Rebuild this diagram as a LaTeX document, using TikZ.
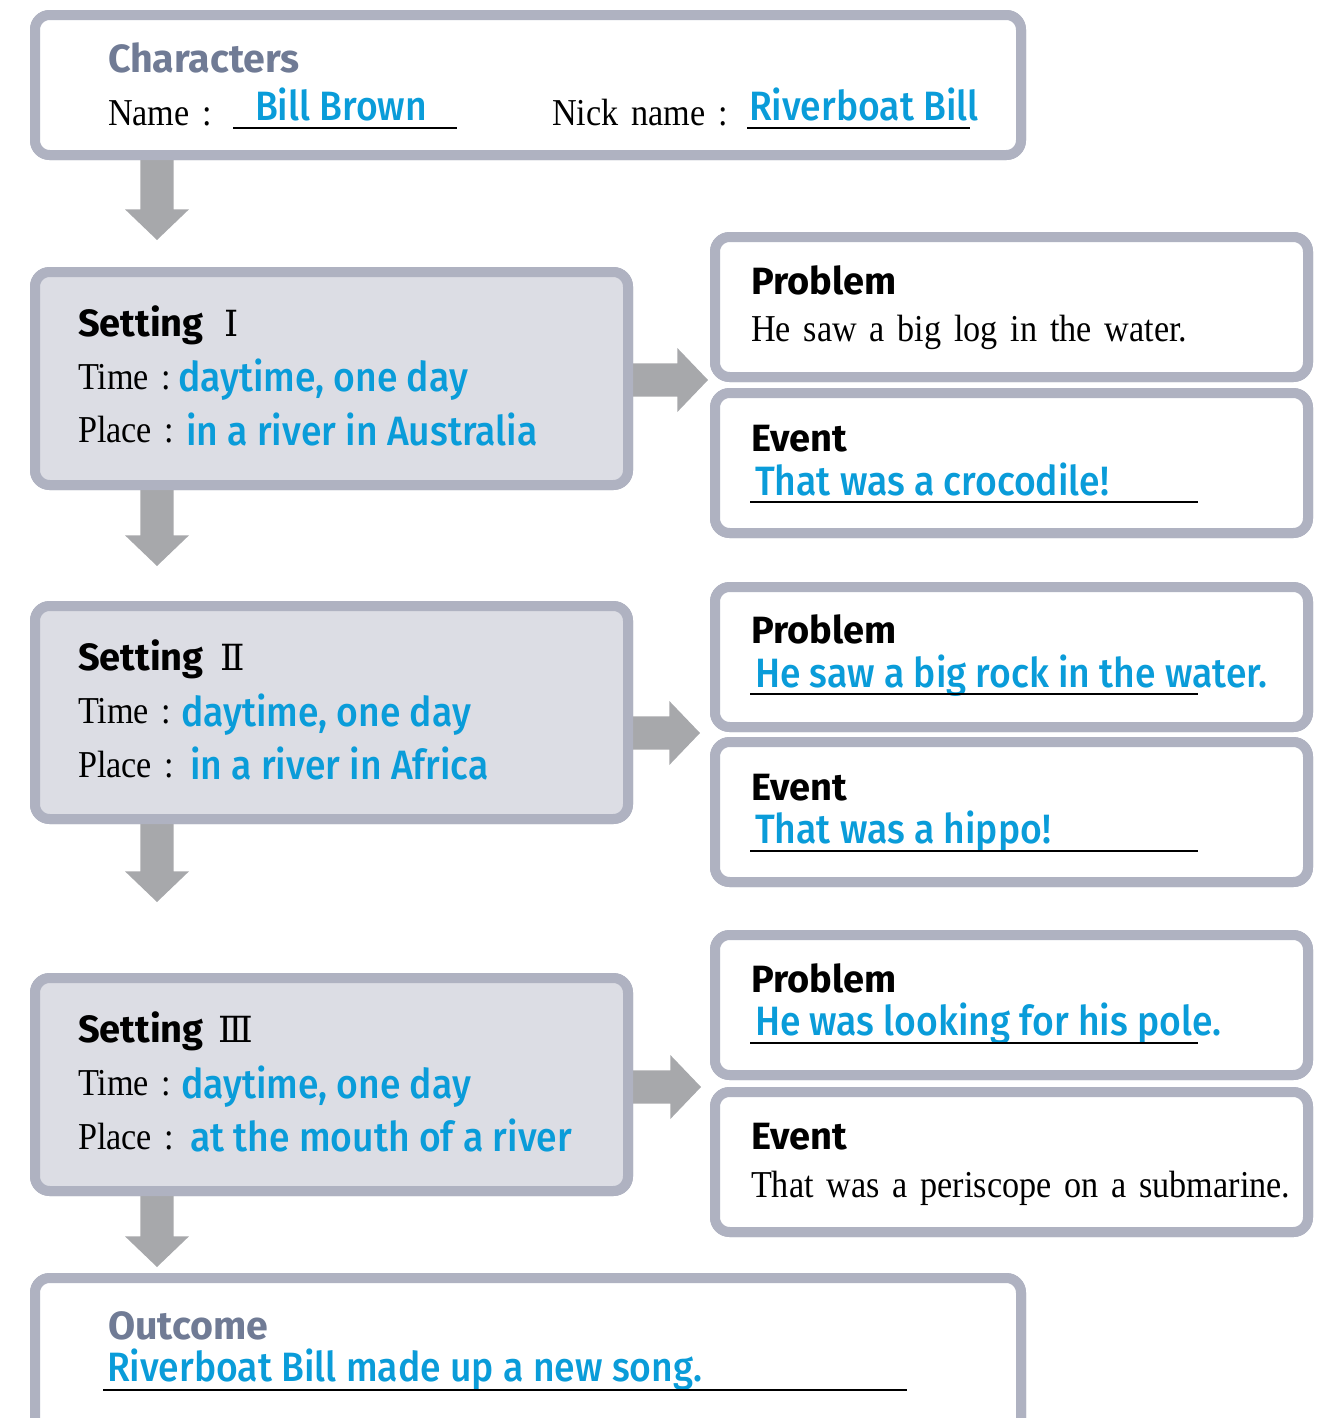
\documentclass[tikz,border=0pt]{standalone}
\usepackage{fontspec}
\setmainfont{Liberation Serif}[FakeStretch=0.9, WordSpace=1.5]
\newfontfamily\hdfont{Fira Sans}
\newfontfamily\ansfont{Fira Sans Medium}[FakeStretch=0.91]
\newfontfamily\numfont{DejaVu Serif}
\usetikzlibrary{calc}
\definecolor{bordergray}{HTML}{AFB2C1}
\definecolor{setfill}{HTML}{DCDDE4}
\definecolor{arrowgray}{HTML}{A7A8AB}
\definecolor{ansblue}{HTML}{0A9CD9}
\definecolor{slate}{HTML}{707B95}
\newcommand\dnarrow[2]{\fill[arrowgray] let \p1=(#1), \p2=(#2) in
  (\x1-12.4pt,\y1) -- (\x1-12.4pt,\y2+23pt) -- (\x1-24pt,\y2+23pt) -- (\x2,\y2)
  -- (\x1+24pt,\y2+23pt) -- (\x1+12.4pt,\y2+23pt) -- (\x1+12.4pt,\y1) -- cycle;}
\newcommand\rtarrow[2]{\fill[arrowgray] let \p1=(#1), \p2=(#2) in
  (\x1,\y1+12.4pt) -- (\x2-23pt,\y1+12.4pt) -- (\x2-23pt,\y1+24pt) -- (\x2,\y2)
  -- (\x2-23pt,\y1-24pt) -- (\x2-23pt,\y1-12.4pt) -- (\x1,\y1-12.4pt) -- cycle;}
\begin{document}
\begin{tikzpicture}[x=0.75pt,y=-0.75pt,
  box/.style={draw=bordergray, line width=7.5pt, rounded corners=11pt, fill=white, anchor=north west, inner sep=0pt, outer sep=0pt},
  setbox/.style={box, fill=setfill, minimum width=444.75pt, minimum height=159.75pt},
  sidebox/.style={box, minimum width=444.75pt, minimum height=105pt},
  widebox/.style={box, minimum width=739.5pt, minimum height=105pt},
  txt/.style={anchor=base west, inner sep=0pt, outer sep=0pt},
  hd/.style={txt, font=\hdfont\bfseries\fontsize{28.5}{32}\selectfont},
  hdslate/.style={hd, text=slate, font=\hdfont\bfseries\fontsize{29.5}{32}\selectfont},
  ans/.style={txt, text=ansblue, font=\ansfont\fontsize{30.75}{34}\selectfont},
  ser/.style={txt, font=\fontsize{28.5}{32}\selectfont},
  num/.style={txt, font=\numfont\fontsize{27}{30}\selectfont},
  uline/.style={line width=1.6pt, black}]
\useasboundingbox (0,0) rectangle (1333,1418);
% arrow tips
\coordinate (t1) at (157,240);
\coordinate (t2) at (157,566);
\coordinate (t3) at (157,902);
\coordinate (t4) at (157,1267);
\coordinate (r1) at (708,380);
\coordinate (r2) at (700,733);
\coordinate (r3) at (701,1087);
% boxes (positions)
\path (35,15) node[widebox] (char) {};
\path (35,272) node[setbox] (set1) {};
\path (35,606) node[setbox] (set2) {};
\path (35,978) node[setbox] (set3) {};
\path (715,237) node[sidebox] (prob1) {};
\path (715,393) node[sidebox] (ev1) {};
\path (715,587) node[sidebox] (prob2) {};
\path (715,742) node[sidebox] (ev2) {};
\path (715,935) node[sidebox] (prob3) {};
\path (715,1092) node[sidebox] (ev3) {};
\path (35,1278) node[box, minimum width=739.5pt, minimum height=120pt] (out) {};
% arrows
\dnarrow{char.south -| t1}{t1}
\dnarrow{set1.south -| t2}{t2}
\dnarrow{set2.south -| t3}{t3}
\dnarrow{set3.south -| t4}{t4}
\rtarrow{set1.east |- r1}{r1}
\rtarrow{set2.east |- r2}{r2}
\rtarrow{set3.east |- r3}{r3}
% redraw boxes on top
\path (35,15) node[widebox] {};
\path (35,272) node[setbox] {};
\path (35,606) node[setbox] {};
\path (35,978) node[setbox] {};
\path (715,237) node[sidebox] {};
\path (715,393) node[sidebox] {};
\path (715,587) node[sidebox] {};
\path (715,742) node[sidebox] {};
\path (715,935) node[sidebox] {};
\path (715,1092) node[sidebox] {};
\path (35,1278) node[box, minimum width=739.5pt, minimum height=120pt] {};
% Characters
\node[hdslate] (chT) at (108,72) {Characters};
\node[ser] (nameL) at (108,125) {Name :};
\node[ans] (nameA) at (255,120) {Bill Brown};
\node[ser] (nickL) at (552,125) {Nick name :};
\node[ans] (nickA) at (749,120) {Riverboat Bill};
\draw[uline] (233,128) -- (457,128);
\draw[uline] (747,128) -- (970,128);
% Setting I
\node[hd] (s1T) at (78,336) {Setting};
\node[num] (s1N) at (224,336) {Ⅰ};
\node[ser] (s1tL) at (78,389) {Time :};
\node[ans] (s1tA) at (178,391) {daytime, one day};
\node[ser] (s1pL) at (78,442) {Place :};
\node[ans] (s1pA) at (186,445) {in a river in Australia};
% Setting II
\node[hd] (s2T) at (78,670) {Setting};
\node[num] (s2N) at (220,670) {Ⅱ};
\node[ser] (s2tL) at (78,723) {Time :};
\node[ans] (s2tA) at (181,726) {daytime, one day};
\node[ser] (s2pL) at (78,777) {Place\ :};
\node[ans] (s2pA) at (190,779) {in a river in Africa};
% Setting III
\node[hd] (s3T) at (78,1042) {Setting};
\node[num] (s3N) at (218,1042) {Ⅲ};
\node[ser] (s3tL) at (78,1095) {Time :};
\node[ans] (s3tA) at (181,1098) {daytime, one day};
\node[ser] (s3pL) at (78,1149) {Place\ :};
\node[ans] (s3pA) at (190,1151) {at the mouth of a river};
% Problem / Event 1
\node[hd] (p1T) at (751,294) {Problem};
\node[ser] (p1A) at (751,341) {He saw a big log in the water.};
\node[hd] (e1T) at (751,451) {Event};
\node[ans] (e1A) at (755,495) {That was a crocodile!};
\draw[uline] (750,502) -- (1198,502);
% Problem / Event 2
\node[hd] (p2T) at (751,643) {Problem};
\node[ans] (p2A) at (755,687) {He saw a big rock in the water.};
\draw[uline] (750,694) -- (1198,694);
\node[hd] (e2T) at (751,800) {Event};
\node[ans] (e2A) at (755,843) {That was a hippo!};
\draw[uline] (750,851) -- (1198,851);
% Problem / Event 3
\node[hd] (p3T) at (751,992) {Problem};
\node[ans] (p3A) at (755,1035) {He was looking for his pole.};
\draw[uline] (750,1043) -- (1198,1043);
\node[hd] (e3T) at (751,1149) {Event};
\node[ser] (e3A) at (751,1197) {That was a periscope on a submarine.};
% Outcome
\node[hdslate] (oT) at (108,1339) {Outcome};
\node[ans] (oA) at (107,1381) {Riverboat Bill made up a new song.};
\draw[uline] (103,1390) -- (907,1390);
\end{tikzpicture}
\end{document}
